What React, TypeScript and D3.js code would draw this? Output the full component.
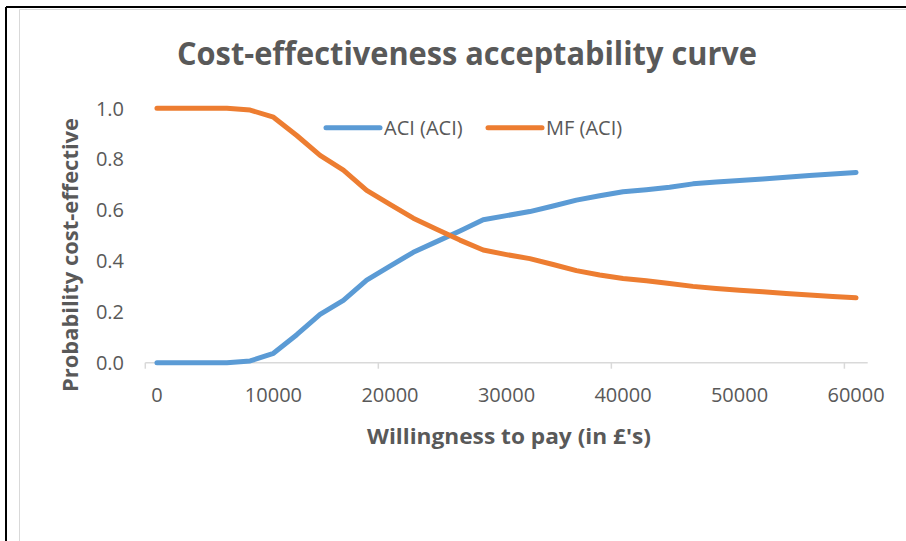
import React from "react";
import * as d3 from "d3";

// Willingness-to-pay thresholds (£), one category every £2,000
const wtp: number[] = [
  0, 2000, 4000, 6000, 8000, 10000, 12000, 14000, 16000, 18000, 20000,
  22000, 24000, 26000, 28000, 30000, 32000, 34000, 36000, 38000, 40000,
  42000, 44000, 46000, 48000, 50000, 52000, 54000, 56000, 58000, 60000,
];

// Probability each option is cost-effective at each threshold
const aciProb: number[] = [
  0.0, 0.0, 0.0, 0.0, 0.007, 0.037, 0.11, 0.19, 0.245, 0.325, 0.38,
  0.434, 0.476, 0.518, 0.562, 0.578, 0.594, 0.616, 0.639, 0.656, 0.672,
  0.68, 0.69, 0.703, 0.71, 0.716, 0.722, 0.729, 0.736, 0.742, 0.748,
];
const mfProb: number[] = [
  1.0, 1.0, 1.0, 1.0, 0.993, 0.965, 0.893, 0.815, 0.757, 0.677, 0.622,
  0.568, 0.525, 0.482, 0.443, 0.425, 0.409, 0.386, 0.362, 0.345, 0.331,
  0.322, 0.311, 0.3, 0.292, 0.285, 0.279, 0.272, 0.266, 0.26, 0.255,
];

const seriesNames = ["ACI (ACI)", "MF (ACI)"];
const seriesColors = ["#5B9BD5", "#ED7D31"];
const yTicks = [0, 0.2, 0.4, 0.6, 0.8, 1.0];

const W = 906;
const H = 541;
const FONT = "'Open Sans', 'DejaVu Sans', sans-serif";
const TEXT = "#595959";

export default function App() {
  const x = d3
    .scalePoint<number>()
    .domain(wtp)
    .range([145.3, 867.7])
    .padding(0.5);
  const step = x.step();
  const y = d3.scaleLinear().domain([0, 1]).range([362.7, 108.3]);

  const line = d3
    .line<number>()
    .x((_, i) => x(wtp[i]) as number)
    .y((d) => y(d));

  const series = [aciProb, mfProb];
  const [x0, x1] = x.range();
  const tickEvery = 10;
  const labelEvery = 5;
  const tickXs = d3.range(0, wtp.length + 1, tickEvery).map((k) => x0 + k * step);

  return (
    <svg
      width={W}
      height={H}
      viewBox={`0 0 ${W} ${H}`}
      style={{ position: "absolute", left: 0, top: 0, background: "#fff" }}
    >
      {/* frame */}
      <line x1={6} y1={7} x2={W} y2={7} stroke="#000" strokeWidth={2} />
      <line x1={6} y1={7} x2={6} y2={H} stroke="#000" strokeWidth={2} />
      <line x1={19.5} y1={9.5} x2={W} y2={9.5} stroke="#D9D9D9" strokeWidth={1} />
      <line x1={19.5} y1={9.5} x2={19.5} y2={H} stroke="#D9D9D9" strokeWidth={1} />

      {/* title */}
      <text
        x={467}
        y={65}
        textAnchor="middle"
        fontFamily={FONT}
        fontWeight="bold"
        fontSize={33}
        fill={TEXT}
        textLength={580}
        lengthAdjust="spacingAndGlyphs"
      >
        Cost-effectiveness acceptability curve
      </text>

      {/* y axis labels */}
      {yTicks.map((t) => (
        <text
          key={t}
          x={124}
          y={y(t)}
          dy="0.36em"
          textAnchor="end"
          fontFamily={FONT}
          fontSize={20}
          fill={TEXT}
        >
          {t.toFixed(1)}
        </text>
      ))}

      {/* x axis */}
      <line x1={x0} y1={y(0)} x2={x1} y2={y(0)} stroke="#D9D9D9" strokeWidth={1.5} />
      {tickXs.map((tx, i) => (
        <line key={i} x1={tx} y1={y(0)} x2={tx} y2={y(0) + 6} stroke="#D9D9D9" strokeWidth={1.5} />
      ))}
      {wtp
        .filter((_, i) => i % labelEvery === 0)
        .map((v) => (
          <text
            key={v}
            x={x(v) as number}
            y={395}
            dy="0.36em"
            textAnchor="middle"
            fontFamily={FONT}
            fontSize={20}
            fill={TEXT}
          >
            {v}
          </text>
        ))}

      {/* axis titles */}
      <text
        x={509}
        y={436}
        dy="0.36em"
        textAnchor="middle"
        fontFamily={FONT}
        fontWeight="bold"
        fontSize={21}
        fill={TEXT}
        textLength={284}
        lengthAdjust="spacingAndGlyphs"
      >
        Willingness to pay (in £'s)
      </text>
      <text
        transform={`translate(70,255) rotate(-90)`}
        dy="0.36em"
        textAnchor="middle"
        fontFamily={FONT}
        fontWeight="bold"
        fontSize={21}
        fill={TEXT}
        textLength={274}
        lengthAdjust="spacingAndGlyphs"
      >
        Probability cost-effective
      </text>

      {/* curves */}
      {series.map((s, i) => (
        <path
          key={i}
          d={line(s) as string}
          fill="none"
          stroke={seriesColors[i]}
          strokeWidth={5}
          strokeLinejoin="round"
          strokeLinecap="round"
        />
      ))}

      {/* legend */}
      {seriesNames.map((name, i) => {
        const lx = [326, 488][i];
        return (
          <g key={name}>
            <line
              x1={lx}
              y1={127.7}
              x2={lx + 54}
              y2={127.7}
              stroke={seriesColors[i]}
              strokeWidth={5}
              strokeLinecap="round"
            />
            <text
              x={lx + 58}
              y={127.7}
              dy="0.36em"
              fontFamily={FONT}
              fontSize={20}
              fill={TEXT}
            >
              {name}
            </text>
          </g>
        );
      })}
    </svg>
  );
}
